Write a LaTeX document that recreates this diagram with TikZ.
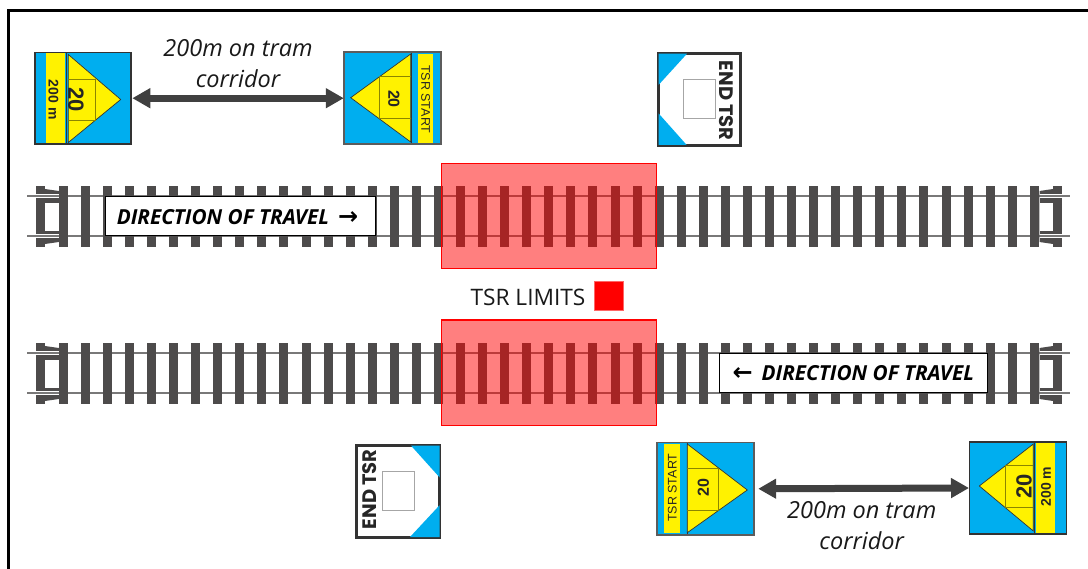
\documentclass[tikz,border=0pt]{standalone}
\usepackage{fontspec}
\setmainfont{Open Sans}
\newfontfamily\signfont{Liberation Sans}
\newfontfamily\endfont{Poppins}
\newfontfamily\arrowfont{DejaVu Sans}
\usetikzlibrary{arrows.meta}

\definecolor{signblue}{HTML}{00AEEF}
\definecolor{signyellow}{HTML}{FFF200}
\definecolor{sleeper}{HTML}{4D4B4B}
\definecolor{signline}{HTML}{333333}

\tikzset{
  plate/.style={draw=signline, fill=signblue, line width=1.6pt, minimum width=#1, inner sep=0pt, outer sep=0pt},
  endplate/.style={draw=signline, fill=white, line width=3pt, inner sep=0pt, outer sep=0pt},
  strip/.style={fill=signyellow},
  wedge/.style={draw=signline, fill=signyellow, line width=0.7pt},
  grid/.style={draw=black!45!signyellow, line width=0.9pt},
  blank/.style={draw=black!35, line width=1pt},
  signtext/.style={font=\signfont\bfseries, text=black!85, inner sep=0pt},
  note/.style={font=\itshape\fontsize{23.5}{24}\selectfont, inner sep=0pt, text=black!90},
  dirbox/.style={draw=black, fill=white, line width=1.3pt, inner sep=0pt, outer sep=0pt, font=\bfseries\itshape\fontsize{20.7}{24}\selectfont},
  limit/.style={draw=red, fill=red, fill opacity=0.5, line width=1.2pt},
  span/.style={{Triangle[length=18pt,width=19pt]}-{Triangle[length=18pt,width=19pt]}, line width=7pt, draw=black!75}
}

% one length of track, #1 = y of the top of the sleepers
\newcommand{\tramtrack}[1]{
  \begin{scope}[yshift=-#1pt]
    \foreach \r in {10,50}
      \draw[sleeper!75, line width=2.4pt] (27,\r) -- (1070,\r);
    \foreach \k in {0,...,44}
      \fill[sleeper] ({63.25+22.07*\k-4.5},0) rectangle ++(9,61);
    % ends of the track
    \fill[sleeper] (36,0) rectangle (45,61);
    \fill[sleeper] (1053,0) rectangle (1062,61);
    \fill[sleeper] (45,3) -- (58.75,5) -- (58.75,56) -- (45,58) -- cycle;
    \fill[sleeper] (1053,3) -- (1039.5,5) -- (1039.5,56) -- (1053,58) -- cycle;
    \fill[white] (45,17) rectangle (58.75,45.5);
    \fill[white] (1039.5,17) rectangle (1053,45.5);
    \foreach \r in {10,50}{
      \draw[white, line width=4.5pt] (27,\r) -- (58.75,\r);
      \draw[white, line width=4.5pt] (1039.5,\r) -- (1072,\r);
      \draw[sleeper!75, line width=2.4pt] (27,\r) -- (58.75,\r);
      \draw[sleeper!75, line width=2.4pt] (1039.5,\r) -- (1070,\r);
    }
  \end{scope}
}

\begin{document}
\begin{tikzpicture}[x=1pt,y=-1pt]
\useasboundingbox (0,0) rectangle (1088,569);
\fill[white] (0,0) rectangle (1088,569);

% Outer frame
\draw[line width=2.2pt, black] (8.4,572) -- (8.4,10.5) -- (1090,10.5);

% Track
\tramtrack{186}
\tramtrack{343}

% TSR limits
\node[limit, minimum width=215pt, minimum height=105pt, inner sep=0pt] (LimitTop) at (548.7,216.3) {};
\node[limit, minimum width=215pt, minimum height=105.5pt, inner sep=0pt] (LimitBottom) at (548.7,372.8) {};
\node[font=\fontsize{22.7}{24}\selectfont, inner sep=0pt, text=black!90] (LimitText) at (528,297) {TSR LIMITS};
\node[draw=red!60, fill=red, line width=0.8pt, minimum size=28.5pt, inner sep=0pt] (LimitKey) at (609,296) {};

% Direction boxes
\node[dirbox, minimum width=270pt, minimum height=39pt] (DirTop) at (240.5,216.3) {\raisebox{-8pt}[0pt][0pt]{DIRECTION OF TRAVEL\hspace{9pt}{\arrowfont\fontsize{24}{24}\fontshape{n}\fontseries{b}\selectfont →}\hspace{6pt}}};
\node[dirbox, minimum width=268pt, minimum height=39pt] (DirBottom) at (853.3,373) {\raisebox{-8pt}[0pt][0pt]{{\arrowfont\fontsize{24}{24}\fontshape{n}\fontseries{b}\selectfont ←}\hspace{9pt}DIRECTION OF TRAVEL}};

% Sign with 200 m, top left
\node[plate=96pt, minimum height=91.5pt] (WarnTop) at (82.8,98.2) {};
\fill[strip] (45.7,53.5) rectangle (65.3,143);
\draw[signline, line width=0.9pt] (66.8,53) -- (66.8,143.5);
\draw[wedge] (68.3,54.5) -- (120.7,99.5) -- (68.3,142.5) -- cycle;
\draw[grid] (68.3,79) -| (95,120.7) -- (68.3,120.7);
\node[signtext, rotate=-90, font=\signfont\bfseries\fontsize{22}{22}\selectfont] (WarnTopSpeed) at (76,100) {20};
\node[signtext, rotate=-90, font=\signfont\bfseries\fontsize{14}{14}\selectfont] (WarnTopDist) at (53.5,99.7) {200 m};

% TSR start, top
\node[plate=97pt, minimum height=92pt, draw=signline!80] (StartTop) at (392.3,98.2) {};
\fill[strip] (418.3,54) rectangle (433.3,142.7);
\draw[signline, line width=0.8pt] (411.3,53) -- (411.3,143.5);
\draw[wedge] (410.7,54) -- (350.7,97.7) -- (410.7,142) -- cycle;
\draw[grid] (410.7,76.7) -| (379.3,118.3) -- (410.7,118.3);
\node[signtext, rotate=-90, font=\signfont\bfseries\fontsize{16}{16}\selectfont] (StartTopSpeed) at (394,99) {20};
\node[signtext, rotate=-90, font=\signfont\fontsize{12.5}{12}\selectfont] (StartTopText) at (425.7,99.3) {TSR START};

% End TSR, top
\node[endplate, minimum width=82.5pt, minimum height=91.5pt] (EndTop) at (699.5,99.4) {};
\fill[signblue] (658.5,53.7) -- (687,53.7) -- (658.5,85) -- cycle;
\fill[signblue] (658.5,113.3) -- (686.7,145) -- (658.5,145) -- cycle;
\node[blank, minimum width=32.3pt, minimum height=39.3pt, inner sep=0pt] (EndTopBlank) at (699.5,99.3) {};
\node[signtext, rotate=-90, font=\endfont\bfseries\fontsize{19.5}{20}\selectfont] (EndTopText) at (726.7,100.8) {END TSR};

% End TSR, bottom
\node[endplate, minimum width=82.5pt, minimum height=91.5pt] (EndBottom) at (398.2,491.3) {};
\fill[signblue] (411,445.6) -- (439.5,445.6) -- (439.5,477.3) -- cycle;
\fill[signblue] (439.5,505.3) -- (439.5,537) -- (410,537) -- cycle;
\node[blank, minimum width=31.7pt, minimum height=38.7pt, inner sep=0pt] (EndBottomBlank) at (398.2,491.3) {};
\node[signtext, rotate=90, font=\endfont\bfseries\fontsize{19.5}{20}\selectfont] (EndBottomText) at (370,489.3) {END TSR};

% TSR start, bottom
\node[plate=97pt, minimum height=92.3pt, draw=signline!80] (StartBottom) at (705.2,488.8) {};
\fill[strip] (664.3,444) rectangle (679.7,533.3);
\draw[signline, line width=0.8pt] (687,443.5) -- (687,534);
\draw[wedge] (687.3,444) -- (747.3,490) -- (687.3,532.7) -- cycle;
\draw[grid] (687.3,468.7) -| (718,510.3) -- (687.3,510.3);
\node[signtext, rotate=90, font=\signfont\bfseries\fontsize{16}{16}\selectfont] (StartBottomSpeed) at (703.3,487.7) {20};
\node[signtext, rotate=90, font=\signfont\fontsize{12.5}{12}\selectfont] (StartBottomText) at (672.3,487.7) {TSR START};

% Sign with 200 m, bottom right
\node[plate=97pt, minimum height=92pt] (WarnBottom) at (1018,488) {};
\fill[strip] (1035.7,443.5) rectangle (1055,532.5);
\draw[signline, line width=0.9pt] (1034.5,443) -- (1034.5,533);
\draw[wedge] (1033.3,444) -- (979.3,486) -- (1033.3,531) -- cycle;
\draw[grid] (1033.3,465.7) -| (1005.7,507.3) -- (1033.3,507.3);
\node[signtext, rotate=90, font=\signfont\bfseries\fontsize{22}{22}\selectfont] (WarnBottomSpeed) at (1024,486.7) {20};
\node[signtext, rotate=90, font=\signfont\bfseries\fontsize{14}{14}\selectfont] (WarnBottomDist) at (1046,486.7) {200 m};

% Distance arrows
\draw[span, shorten <=1.5pt] (WarnTop.east) -- (StartTop.west);
\draw[span, shorten <=4.5pt, shorten >=0.5pt] (StartBottom.east) -- (WarnBottom.west);

% Distance labels
\node[note] (NoteTopA) at (238,48) {200m on tram};
\node[note] (NoteTopB) at (238,79) {corridor};
\node[note] (NoteBottomA) at (861.7,510) {200m on tram};
\node[note] (NoteBottomB) at (861.7,541) {corridor};

\end{tikzpicture}
\end{document}
